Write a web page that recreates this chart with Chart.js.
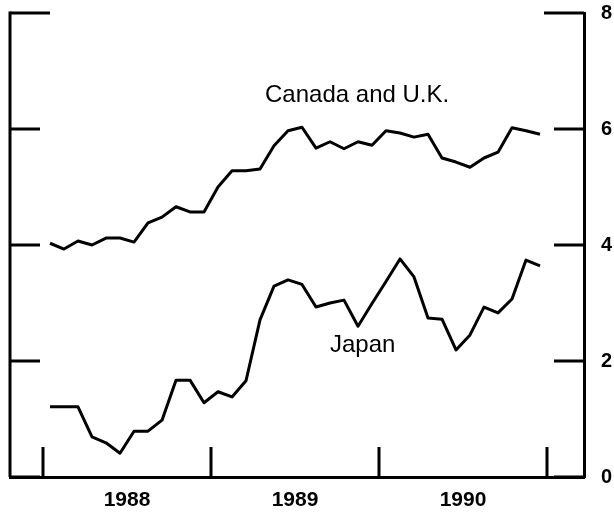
<!DOCTYPE html>
<html lang="en">
<head>
    <meta charset="UTF-8">
    <title>Canada and U.K. / Japan</title>
    <style>
        * {
            padding: 0;
            margin: 0;
        }
        body {
            background: white;
            font-family: 'Liberation Sans', Arial, sans-serif;
        }
        .wrap {
            width: 614px;
            height: 513px;
        }
    </style>
</head>
<body>
    <div class="wrap">
        <canvas id="chart" width="614" height="513"></canvas>
    </div>

    <script src="https://cdn.jsdelivr.net/npm/chart.js"></script>
    <script>
        // monthly values, Jan 1988 .. Dec 1990
        const years = ['1988', '1989', '1990'];
        const yTicks = [0, 2, 4, 6, 8];

        const canada = [
            4.03, 3.93, 4.07, 4.00, 4.12, 4.12, 4.05, 4.38, 4.48, 4.66, 4.57, 4.57,
            5.00, 5.28, 5.28, 5.31, 5.71, 5.97, 6.03, 5.67, 5.78, 5.66, 5.78, 5.72,
            5.97, 5.93, 5.86, 5.91, 5.50, 5.43, 5.34, 5.50, 5.60, 6.02, 5.97, 5.91
        ];
        const japan = [
            1.21, 1.21, 1.21, 0.69, 0.59, 0.41, 0.79, 0.79, 0.98, 1.67, 1.67, 1.28,
            1.47, 1.38, 1.66, 2.71, 3.29, 3.40, 3.32, 2.93, 3.00, 3.05, 2.60, 2.99,
            3.37, 3.76, 3.45, 2.74, 2.72, 2.19, 2.45, 2.93, 2.83, 3.07, 3.74, 3.64
        ];

        // x in months from start of 1988, points at mid-month
        const toPoints = arr => arr.map((v, i) => ({ x: i + 0.5, y: v }));

        const FONT = "'Liberation Sans', Arial, sans-serif";

        // no extra room for half labels at the ends of the axes
        function noPad(scale) {
            scale.paddingTop = 0;
            scale.paddingBottom = 0;
            scale.paddingLeft = 0;
            scale.paddingRight = 0;
        }

        // tick marks drawn inward + series captions
        const frame = {
            id: 'frame',
            afterDraw(chart) {
                const ctx = chart.ctx;
                const a = chart.chartArea;
                const xs = chart.scales.x;
                const ys = chart.scales.y;
                ctx.save();
                ctx.strokeStyle = '#000';
                ctx.lineWidth = 3;
                ctx.lineCap = 'butt';

                // left axis line
                ctx.beginPath();
                ctx.moveTo(a.left, a.top - 1.5);
                ctx.lineTo(a.left, a.bottom);
                ctx.stroke();

                // y ticks on both sides
                yTicks.forEach(v => {
                    const py = ys.getPixelForValue(v);
                    const len = v === 8 ? 40 : 30;
                    ctx.beginPath();
                    ctx.moveTo(a.left, py);
                    ctx.lineTo(a.left + len, py);
                    ctx.moveTo(a.right, py);
                    ctx.lineTo(a.right - len, py);
                    ctx.stroke();
                });

                // year boundaries on x axis
                for (let k = 0; k <= years.length; k++) {
                    const px = xs.getPixelForValue(k * 12);
                    ctx.beginPath();
                    ctx.moveTo(px, a.bottom);
                    ctx.lineTo(px, a.bottom - 30);
                    ctx.stroke();
                }

                // captions
                ctx.fillStyle = '#000';
                ctx.font = '24px ' + FONT;
                ctx.textAlign = 'left';
                ctx.textBaseline = 'alphabetic';
                ctx.fillText('Canada and U.K.', xs.getPixelForValue(15.86), ys.getPixelForValue(6.47));
                ctx.fillText('Japan', xs.getPixelForValue(20.5), ys.getPixelForValue(2.16));
                ctx.restore();
            }
        };

        const ctx1 = document.getElementById('chart').getContext('2d');
        const chart = new Chart(ctx1, {
            type: 'line',
            data: {
                datasets: [
                    {
                        label: 'Canada and U.K.',
                        data: toPoints(canada),
                        borderColor: '#000',
                        borderWidth: 3,
                        pointRadius: 0,
                        tension: 0,
                        fill: false,
                        borderJoinStyle: 'round'
                    },
                    {
                        label: 'Japan',
                        data: toPoints(japan),
                        borderColor: '#000',
                        borderWidth: 3,
                        pointRadius: 0,
                        tension: 0,
                        fill: false,
                        borderJoinStyle: 'round'
                    }
                ]
            },
            options: {
                responsive: false,
                animation: false,
                events: [],
                layout: {
                    padding: { left: 10, top: 13, right: 0, bottom: 0 }
                },
                plugins: {
                    legend: { display: false },
                    tooltip: { enabled: false }
                },
                scales: {
                    x: {
                        type: 'linear',
                        min: -33 / 14,
                        max: 541 / 14,
                        afterBuildTicks: scale => {
                            scale.ticks = years.map((y, i) => ({ value: i * 12 + 6 }));
                        },
                        afterFit: scale => { scale.height = 36; noPad(scale); },
                        grid: { display: false, drawTicks: false },
                        border: { display: true, color: '#000', width: 3 },
                        ticks: {
                            padding: 11,
                            color: '#000',
                            font: { family: FONT, size: 21, weight: 'bold' },
                            maxRotation: 0,
                            callback: (v) => years[Math.round((v - 6) / 12)]
                        }
                    },
                    y: {
                        position: 'right',
                        min: 0,
                        max: 8,
                        afterBuildTicks: scale => {
                            scale.ticks = yTicks.map(v => ({ value: v }));
                        },
                        afterFit: scale => { scale.width = 30; noPad(scale); },
                        grid: { display: false, drawTicks: false },
                        border: { display: true, color: '#000', width: 3 },
                        ticks: {
                            padding: 17,
                            color: '#000',
                            font: { family: FONT, size: 20, weight: 'bold' }
                        }
                    }
                }
            },
            plugins: [frame]
        });
    </script>
</body>
</html>
